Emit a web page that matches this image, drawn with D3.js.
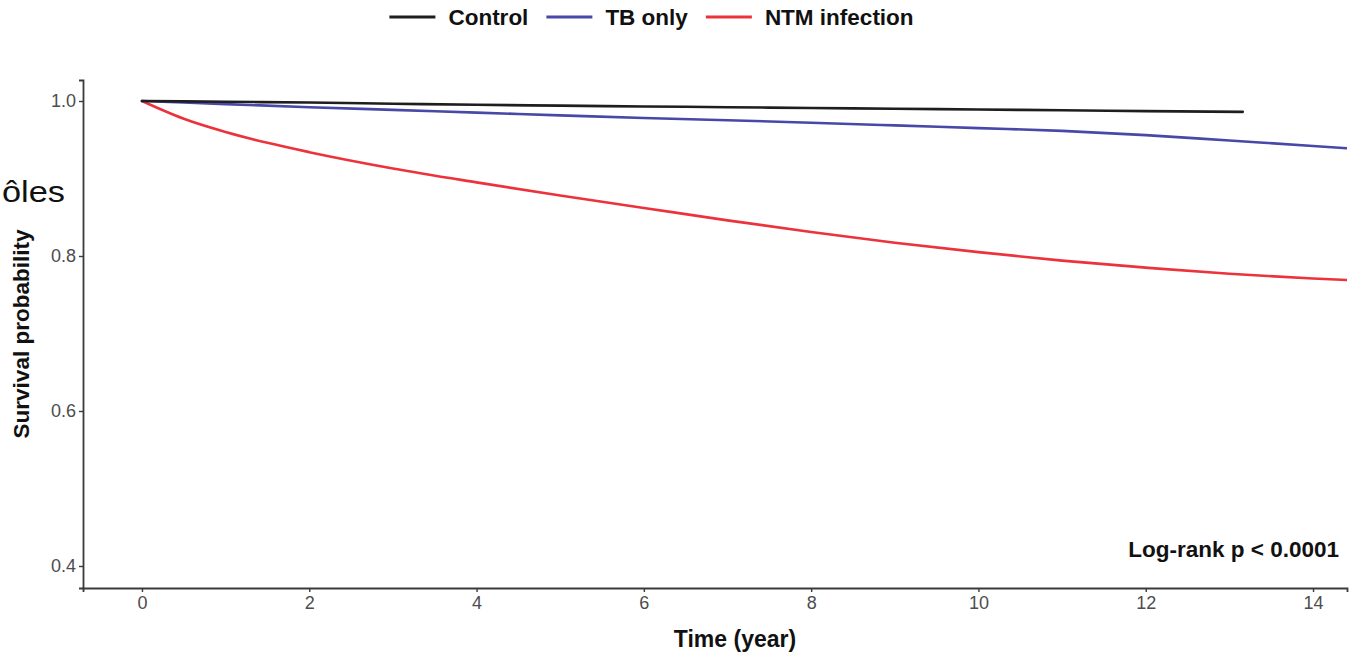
<!DOCTYPE html>
<html>
<head>
<meta charset="utf-8">
<script src="https://cdn.jsdelivr.net/npm/d3@7"></script>
<style>
  html, body { margin: 0; padding: 0; background: #ffffff; }
  svg { display: block; font-family: "Liberation Sans", Arial, Helvetica, sans-serif; }
</style>
</head>
<body>
<svg id="chart" width="1354" height="655"></svg>
<script>
// Kaplan-Meier style survival curves, one array per group
const groups = ["Control", "TB only", "NTM infection"];
const groupColors = ["#1e1e1e", "#4848a8", "#ec323b"];

const controlTime = [0, 1, 2, 3, 4, 5, 6, 7, 8, 9, 10, 11, 12, 13.16];
const controlSurv = [1.0, 0.999, 0.998, 0.9965, 0.9952, 0.994, 0.993, 0.992, 0.991, 0.990, 0.989, 0.988, 0.987, 0.986];

const tbTime = [0, 1, 2, 3, 4, 5, 6, 7, 8, 9, 10, 11, 12, 13, 14, 14.41];
const tbSurv = [1.0, 0.996, 0.992, 0.9885, 0.985, 0.9815, 0.978, 0.9752, 0.972, 0.9685, 0.965, 0.9615, 0.956, 0.949, 0.942, 0.939];

const ntmTime = [0, 0.25, 0.5, 1, 1.5, 2, 3, 4, 5, 6, 7, 8, 9, 10, 11, 12, 13, 14, 14.41];
const ntmSurv = [1.0, 0.988, 0.977, 0.960, 0.946, 0.934, 0.913, 0.895, 0.878, 0.862, 0.846, 0.831, 0.817, 0.805, 0.794, 0.785, 0.777, 0.771, 0.769];

const xTicks = [0, 2, 4, 6, 8, 10, 12, 14];
const yTicks = [0.4, 0.6, 0.8, 1.0];

const xTitle = "Time (year)";
const yTitle = "Survival probability";
const pValueText = "Log-rank p < 0.0001";
const sideText = "ôles";

const svg = d3.select("#chart");

// Panel box
const panel = { left: 83, right: 1347, top: 80, bottom: 588 };

const x = d3.scaleLinear().domain([-0.705, 14.406]).range([panel.left, panel.right]);
const y = d3.scaleLinear().domain([0.3716, 1.0271]).range([panel.bottom, panel.top]);

const series = [
  { name: groups[0], color: groupColors[0], t: controlTime, s: controlSurv },
  { name: groups[1], color: groupColors[1], t: tbTime, s: tbSurv },
  { name: groups[2], color: groupColors[2], t: ntmTime, s: ntmSurv }
];

// Curves
const line = d3.line()
  .x(d => x(d[0]))
  .y(d => y(d[1]))
  .curve(d3.curveMonotoneX);

svg.append("clipPath").attr("id", "panelClip")
  .append("rect")
  .attr("x", panel.left).attr("y", panel.top)
  .attr("width", panel.right - panel.left).attr("height", panel.bottom - panel.top);

const curves = svg.append("g").attr("clip-path", "url(#panelClip)");
// Red first so black and blue sit on top at the common start
[2, 1, 0].forEach(i => {
  const sr = series[i];
  curves.append("path")
    .datum(sr.t.map((t, j) => [t, sr.s[j]]))
    .attr("d", line)
    .attr("fill", "none")
    .attr("stroke", sr.color)
    .attr("stroke-width", 2.6)
    .attr("stroke-linecap", "round")
    .attr("stroke-linejoin", "round");
});

// Axes
const xAxis = d3.axisBottom(x).tickValues(xTicks).tickFormat(d3.format("d")).tickSizeOuter(0).tickSize(4).tickPadding(4);
const yAxis = d3.axisLeft(y).tickValues(yTicks).tickFormat(d3.format(".1f")).tickSizeOuter(0).tickSize(4).tickPadding(3);

const gx = svg.append("g").attr("transform", `translate(0,${panel.bottom})`).call(xAxis);
const gy = svg.append("g").attr("transform", `translate(${panel.left},0)`).call(yAxis);

[gx, gy].forEach(g => {
  g.select(".domain").attr("stroke", "#3a3a3a").attr("stroke-width", 1.8);
  g.selectAll(".tick line").attr("stroke", "#3a3a3a").attr("stroke-width", 1.4);
  g.selectAll(".tick text")
    .attr("fill", "#4d4d4d")
    .style("font-family", "'Liberation Sans', Arial, sans-serif")
    .style("font-size", "18px");
});

// Axis titles
svg.append("text")
  .attr("x", 735).attr("y", 647)
  .attr("text-anchor", "middle")
  .attr("font-weight", "bold")
  .attr("font-size", 23)
  .attr("fill", "#111")
  .text(xTitle);

svg.append("text")
  .attr("transform", "translate(29,334) rotate(-90)")
  .attr("text-anchor", "middle")
  .attr("font-weight", "bold")
  .attr("font-size", 22.5)
  .attr("fill", "#111")
  .text(yTitle);

// Test annotation
svg.append("text")
  .attr("x", 1339).attr("y", 557)
  .attr("text-anchor", "end")
  .attr("font-weight", "bold")
  .attr("font-size", 22.5)
  .attr("fill", "#111")
  .text(pValueText);

// Stray label at the left edge
svg.append("text")
  .attr("x", 2).attr("y", 202)
  .attr("font-size", 29)
  .attr("textLength", 63)
  .attr("lengthAdjust", "spacingAndGlyphs")
  .attr("fill", "#111")
  .text(sideText);

// Legend, laid out from measured text widths and centred above the panel
const legend = svg.append("g");
const keyLen = 46, keyGap = 13, itemGap = 18;
let cursor = 0;
series.forEach(sr => {
  const item = legend.append("g").attr("transform", `translate(${cursor},0)`);
  item.append("line")
    .attr("x1", 0).attr("x2", keyLen).attr("y1", 0).attr("y2", 0)
    .attr("stroke", sr.color).attr("stroke-width", 3);
  const t = item.append("text")
    .attr("x", keyLen + keyGap).attr("y", 8)
    .attr("font-weight", "bold")
    .attr("font-size", 22.5)
    .attr("fill", "#111")
    .text(sr.name);
  cursor += keyLen + keyGap + t.node().getComputedTextLength() + itemGap;
});
const legendWidth = cursor - itemGap;
legend.attr("transform", `translate(${651.5 - legendWidth / 2},17)`);
</script>
</body>
</html>
